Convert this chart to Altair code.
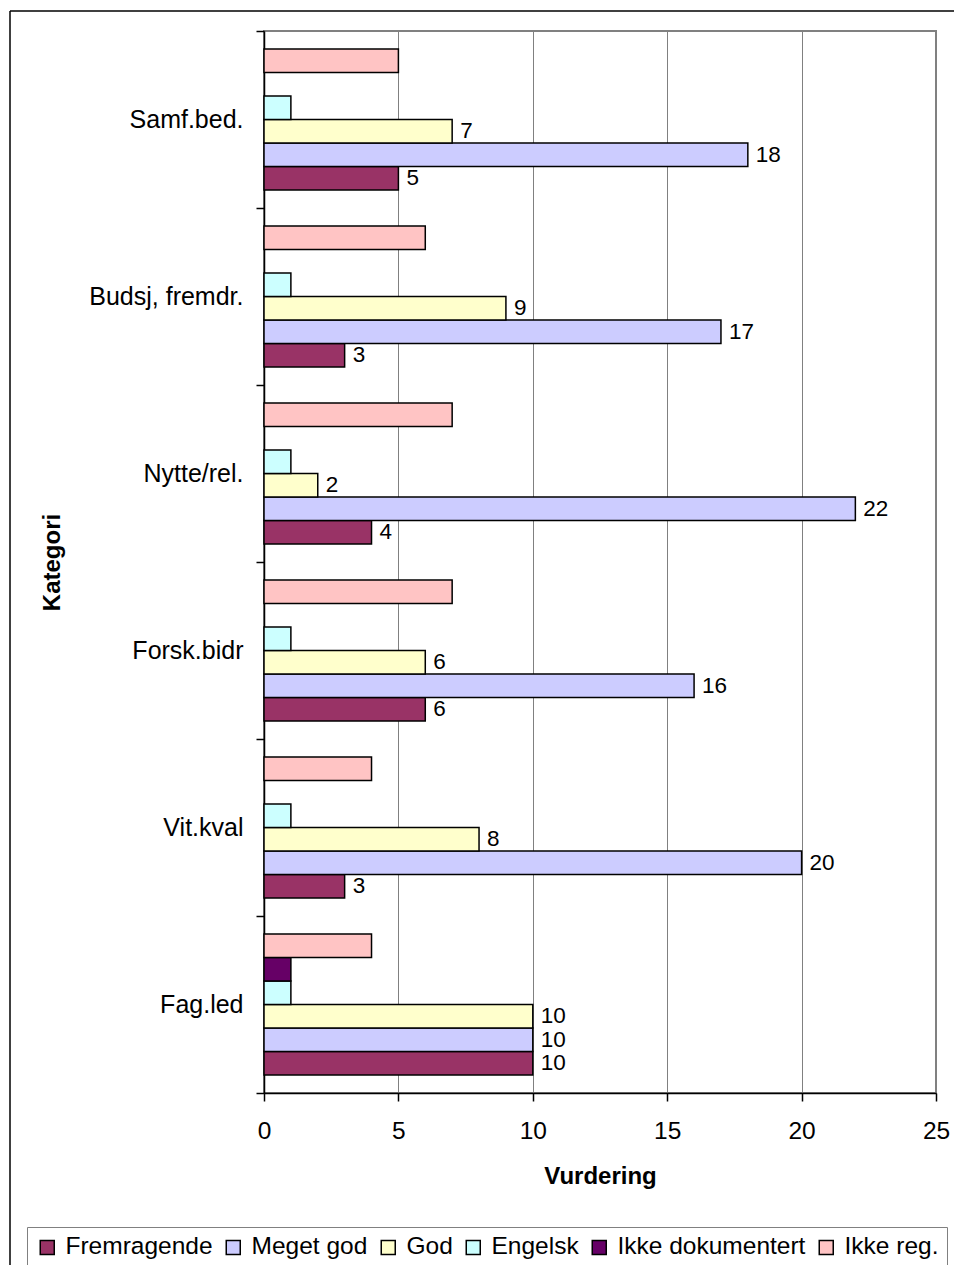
import altair as alt
import pandas as pd

categories = ["Samf.bed.", "Budsj, fremdr.", "Nytte/rel.", "Forsk.bidr", "Vit.kval", "Fag.led"]
series = ["Fremragende", "Meget god", "God", "Engelsk", "Ikke dokumentert", "Ikke reg."]
fremragende = [5, 3, 4, 6, 3, 10]
meget_god = [18, 17, 22, 16, 20, 10]
god = [7, 9, 2, 6, 8, 10]
engelsk = [1, 1, 1, 1, 1, 1]
ikke_dok = [0, 0, 0, 0, 0, 1]
ikke_reg = [5, 6, 7, 7, 4, 4]
colors = ["#993366", "#CCCCFF", "#FFFFCC", "#CCFFFF", "#660066", "#FFC4C4"]
labelled = ["Fremragende", "Meget god", "God"]
x_ticks = [0, 5, 10, 15, 20, 25]

rows = []
for s, vals in zip(series, [fremragende, meget_god, god, engelsk, ikke_dok, ikke_reg]):
    for c, v in zip(categories, vals):
        rows.append({"Kategori": c, "Serie": s, "Vurdering": v})
df = pd.DataFrame(rows)

FONT = "Liberation Sans"

axis_style = dict(
    domainColor="black",
    domainWidth=1.5,
    tickColor="black",
    tickWidth=1.5,
    gridColor="#808080",
    gridWidth=1,
    labelFont=FONT,
    labelColor="black",
    titleFont=FONT,
    titleFontSize=24,
    titleFontWeight="bold",
    titleColor="black",
)

y_enc = alt.Y(
    "Kategori:N",
    scale=alt.Scale(domain=categories, paddingInner=0, paddingOuter=0),
    axis=alt.Axis(
        title="Kategori",
        tickBand="extent",
        tickSize=8,
        labelPadding=13,
        labelFontSize=25,
        titleX=-200,
        **axis_style,
    ),
)
yoff_enc = alt.YOffset(
    "Serie:N",
    scale=alt.Scale(domain=list(reversed(series)), paddingInner=0, paddingOuter=0.766),
)
x_enc = alt.X(
    "Vurdering:Q",
    scale=alt.Scale(domain=[0, 25], nice=False, zero=True),
    axis=alt.Axis(
        title="Vurdering",
        values=x_ticks,
        grid=True,
        tickSize=8,
        labelPadding=18,
        labelFontSize=24.5,
        labelFlush=False,
        titlePadding=22,
        **axis_style,
    ),
)

base = alt.Chart(df)

bars = base.mark_bar(stroke="black", strokeWidth=1.5).encode(
    y=y_enc,
    yOffset=yoff_enc,
    x=x_enc,
    color=alt.Color(
        "Serie:N",
        scale=alt.Scale(domain=series, range=colors),
        legend=alt.Legend(
            title=None,
            orient="none",
            legendX=-237,
            legendY=1196,
            direction="horizontal",
            columns=6,
            symbolType="square",
            symbolSize=196,
            symbolStrokeColor="black",
            symbolStrokeWidth=1.5,
            labelFontSize=24.5,
            labelFont=FONT,
            labelColor="black",
            labelLimit=400,
            labelOffset=6,
            columnPadding=8,
            padding=8,
            strokeColor="#808080",
        ),
    ),
).transform_filter(alt.datum.Vurdering > 0)

labels = base.mark_text(
    align="left", baseline="middle", dx=8, fontSize=22.5, font=FONT, color="black"
).encode(
    y=y_enc,
    yOffset=yoff_enc,
    x=x_enc,
    text="Vurdering:Q",
).transform_filter(alt.FieldOneOfPredicate(field="Serie", oneOf=labelled))

frame_df = pd.DataFrame({"f": [0]})
frame_left = alt.Chart(frame_df).mark_rule(color="black", strokeWidth=1.5).encode(
    x=alt.value(-254), y=alt.value(-20), y2=alt.value(1240)
)
frame_top = alt.Chart(frame_df).mark_rule(color="black", strokeWidth=1.5).encode(
    x=alt.value(-254), x2=alt.value(700), y=alt.value(-20)
)

chart = (
    alt.layer(bars, labels, frame_left, frame_top)
    .properties(
        width=672,
        height=1062,
        autosize=alt.AutoSizeParams(type="none"),
        padding={"left": 256, "top": 23, "right": 18, "bottom": 172},
        background="white",
    )
    .configure_view(stroke="#808080", strokeWidth=2)
)

chart.save("out.html", embed_options={"renderer": "svg", "actions": False})
